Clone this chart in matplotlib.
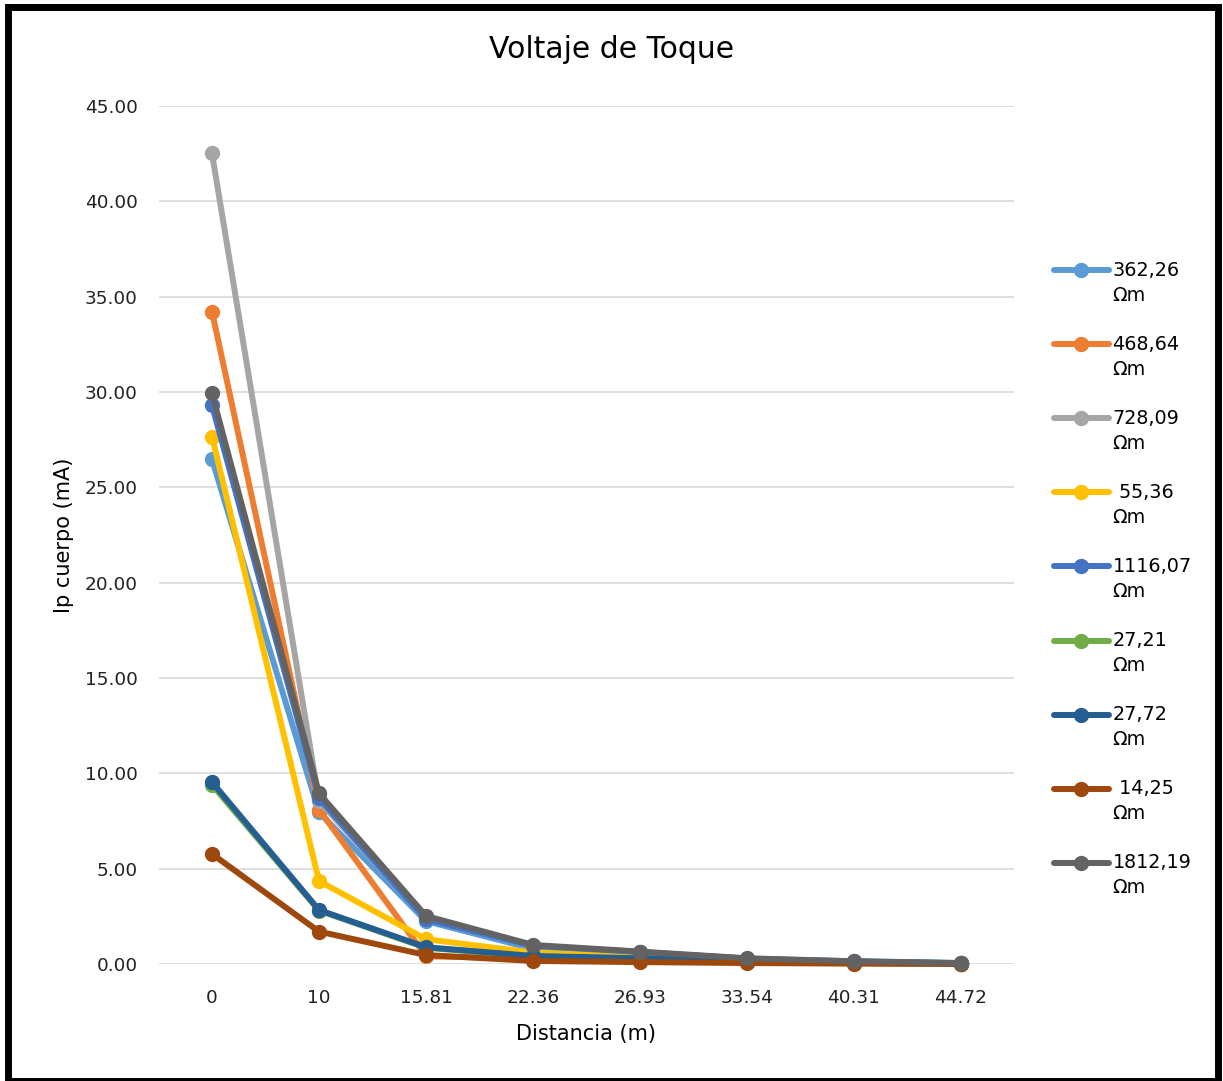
import matplotlib
matplotlib.use("Agg")
import matplotlib.pyplot as plt
import numpy as np
from matplotlib.patches import Rectangle
from matplotlib.ticker import FormatStrFormatter
from matplotlib.legend_handler import HandlerLine2D

plt.rcParams['font.family'] = ['DejaVu Sans']

# distancias (m) y corriente por el cuerpo (mA) para cada resistividad
distancias = ["0", "10", "15.81", "22.36", "26.93", "33.54", "40.31", "44.72"]
etiquetas = ["362,26\nΩm", "468,64\nΩm", "728,09\nΩm", " 55,36\nΩm", "1116,07\nΩm",
             "27,21\nΩm", "27,72\nΩm", " 14,25\nΩm", "1812,19\nΩm"]

ip_362 = [26.47, 7.95, 2.25, 0.80, 0.55, 0.25, 0.15, 0.05]
ip_468 = [34.22, 8.10, 0.40, 0.30, 0.20, 0.10, 0.05, 0.02]
ip_728 = [42.51, 8.55, 2.40, 0.95, 0.62, 0.28, 0.12, 0.04]
ip_55 = [27.66, 4.35, 1.30, 0.60, 0.40, 0.20, 0.08, 0.03]
ip_1116 = [29.31, 8.70, 2.35, 0.95, 0.63, 0.28, 0.13, 0.04]
ip_27_21 = [9.40, 2.80, 0.85, 0.40, 0.28, 0.12, 0.05, 0.02]
ip_27_72 = [9.54, 2.83, 0.88, 0.42, 0.30, 0.13, 0.06, 0.02]
ip_14 = [5.77, 1.70, 0.47, 0.16, 0.10, 0.05, 0.02, 0.01]
ip_1812 = [29.93, 8.95, 2.52, 1.00, 0.65, 0.30, 0.14, 0.05]

series = [ip_362, ip_468, ip_728, ip_55, ip_1116, ip_27_21, ip_27_72, ip_14, ip_1812]
colores = ["#5B9BD5", "#ED7D31", "#A5A5A5", "#FFC000", "#4472C4",
           "#70AD47", "#255E91", "#9E480E", "#636363"]

LEG_FS = 13.8
LEG_LS = 1.4


class HandlerArriba(HandlerLine2D):
    # sube la muestra de la leyenda a la altura de la primera linea del texto
    def create_artists(self, legend, orig_handle, xdescent, ydescent,
                       width, height, fontsize, trans):
        arts = super().create_artists(legend, orig_handle, xdescent, ydescent,
                                      width, height, fontsize, trans)
        for a in arts:
            a.set_ydata(np.asarray(a.get_ydata()) + 0.5 * LEG_LS * LEG_FS)
        return arts


W, H = 1223, 1081
fig = plt.figure(figsize=(W / 100, H / 100), dpi=100)
ax = fig.add_axes([158.5 / W, 1 - 964 / H, 856 / W, 858 / H])

x = list(range(len(distancias)))
for ys, lab, col in zip(series, etiquetas, colores):
    ax.plot(x, ys, color=col, lw=4.3, marker='o', markersize=10,
            label=lab, clip_on=False, solid_capstyle='round')

ax.set_xlim(-0.5, len(distancias) - 0.5)
ax.set_ylim(0, 45)
ax.set_yticks([0, 5, 10, 15, 20, 25, 30, 35, 40, 45])
ax.yaxis.set_major_formatter(FormatStrFormatter('%.2f'))
ax.set_xticks(x)
ax.set_xticklabels(distancias)
ax.grid(axis='y', color='#D9D9D9', lw=1.2)
ax.set_axisbelow(True)
for s in ax.spines.values():
    s.set_visible(False)
ax.tick_params(axis='both', length=0, labelsize=13.3, colors='#222222')
ax.tick_params(axis='y', pad=15)
ax.tick_params(axis='x', pad=18)

ax.set_xlabel("Distancia (m)", fontsize=15, labelpad=12)
ax.set_ylabel("Ip cuerpo (mA)", fontsize=15, labelpad=8)
fig.text(612 / W, 1 - 50 / H, "Voltaje de Toque", fontsize=21.5, ha='center', va='center')

leg = fig.legend(loc='upper left', bbox_to_anchor=(1046 / W, 1 - 253 / H), frameon=False,
                 fontsize=LEG_FS, handlelength=2.87, handletextpad=0.2, labelspacing=1.57,
                 borderaxespad=0, handler_map={matplotlib.lines.Line2D: HandlerArriba()})
for t in leg.get_texts():
    t.set_linespacing(LEG_LS)

# marco negro alrededor de la figura
fig.patches.append(Rectangle((7.5 / W, 0.5 / H), (1218 - 7.5) / W, (1081 - 7.0) / H,
                             transform=fig.transFigure, fill=False,
                             edgecolor='black', lw=5.0))

fig.savefig("out.png", dpi=100)
